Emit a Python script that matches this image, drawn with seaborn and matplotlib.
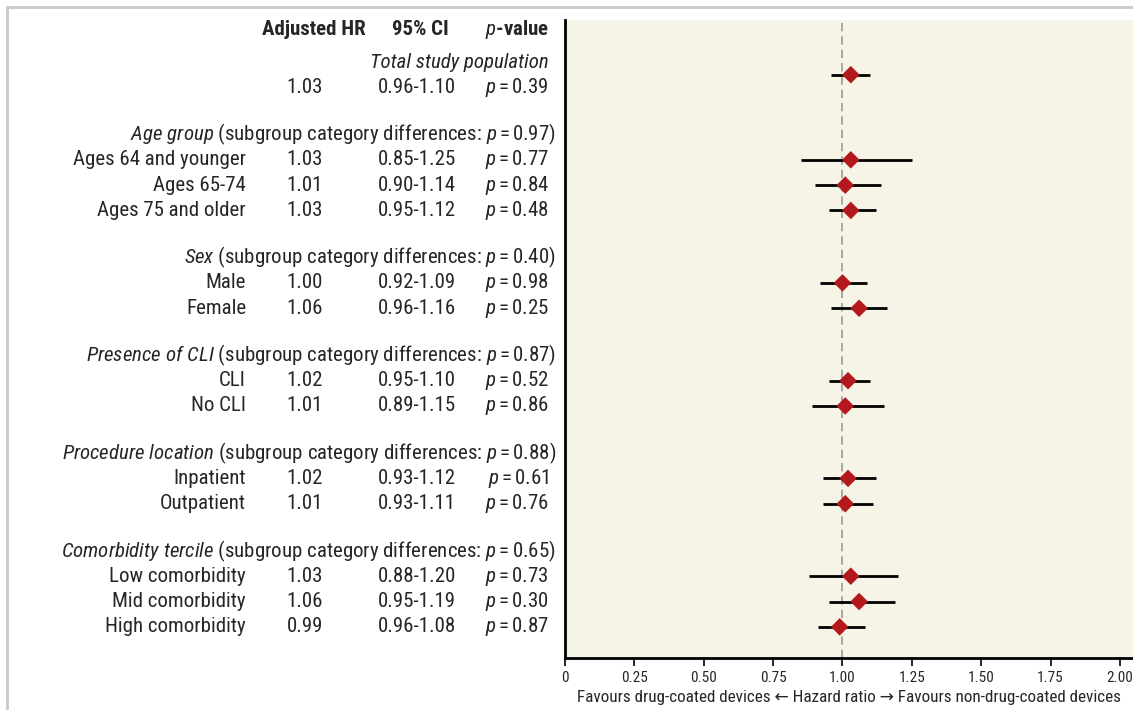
import numpy as np
import pandas as pd
import matplotlib
matplotlib.use("Agg")
import matplotlib.pyplot as plt
import matplotlib.transforms as mtransforms
from matplotlib import font_manager
from matplotlib.lines import Line2D
import seaborn as sns

# subgroup data
groups = ["Age group", "Sex", "Presence of CLI", "Procedure location", "Comorbidity tercile"]
group_p = ["0.97", "0.40", "0.87", "0.88", "0.65"]
group_items = [
    ["Ages 64 and younger", "Ages 65-74", "Ages 75 and older"],
    ["Male", "Female"],
    ["CLI", "No CLI"],
    ["Inpatient", "Outpatient"],
    ["Low comorbidity", "Mid comorbidity", "High comorbidity"],
]
hr = [1.03, 1.01, 1.03, 1.00, 1.06, 1.02, 1.01, 1.02, 1.01, 1.03, 1.06, 0.99]
ci_lo = [0.85, 0.90, 0.95, 0.92, 0.96, 0.95, 0.89, 0.93, 0.93, 0.88, 0.95, 0.91]
ci_hi = [1.25, 1.14, 1.12, 1.09, 1.16, 1.10, 1.15, 1.12, 1.11, 1.20, 1.19, 1.08]
ci_text = ["0.85-1.25", "0.90-1.14", "0.95-1.12", "0.92-1.09", "0.96-1.16", "0.95-1.10",
           "0.89-1.15", "0.93-1.12", "0.93-1.11", "0.88-1.20", "0.95-1.19", "0.96-1.08"]
pvals = ["0.77", "0.84", "0.48", "0.98", "0.25", "0.52", "0.86", "0.61", "0.76", "0.73", "0.30", "0.87"]

total_hr = 1.03
total_lo, total_hi = 0.96, 1.10
total_ci_text = "0.96-1.10"
total_p = "0.39"

sns.set_style("white")

# pick the narrowest installed family
installed = {f.name for f in font_manager.fontManager.ttflist}
fnt = "Liberation Sans"
for cand in ["Liberation Sans Narrow", "Roboto Condensed", "DejaVu Sans Condensed", "Liberation Sans"]:
    if cand in installed:
        fnt = cand
        break
condensed = fnt != "Liberation Sans"
plt.rcParams["font.family"] = [fnt, "DejaVu Sans"]
plt.rcParams["mathtext.fontset"] = "custom"
plt.rcParams["mathtext.rm"] = fnt
plt.rcParams["mathtext.it"] = fnt + ":italic"
plt.rcParams["mathtext.bf"] = fnt + ":bold"

W, H = 1133, 710
fig = plt.figure(figsize=(W / 100, H / 100), dpi=100)
ax = fig.add_axes([565 / W, 1 - 658 / H, 1 - 565 / W, (658 - 20) / H])

# row layout (row units, 0 = "Total study population" line)
step, gap = 1.0, 1.86
y_total_val = step
y = y_total_val
head_y, item_y = [], []
for items in group_items:
    y += gap
    head_y.append(y)
    for _ in items:
        y += step
        item_y.append(y)
y_marker_total = 0.5

ax.set_ylim(y + 1.23, -1.66)
ax.set_xlim(0, 2.047)
ax.set_facecolor("#f6f3e7")

# CI lines and diamonds
ax.hlines(item_y, ci_lo, ci_hi, color="black", lw=2, zorder=2)
ax.hlines([y_marker_total], [total_lo], [total_hi], color="black", lw=2, zorder=2)
df = pd.DataFrame({"hr": [total_hr] + hr, "y": [y_marker_total] + item_y})
sns.scatterplot(data=df, x="hr", y="y", marker="D", s=80, color="#b3191c",
                edgecolor="none", zorder=3, ax=ax, legend=False)
ax.axvline(1.0, color="#999999", lw=1.2, ls=(0, (5, 3)), zorder=1)

fs = 15 if condensed else 12.6
ax.set_xticks([0, 0.25, 0.5, 0.75, 1.0, 1.25, 1.5, 1.75, 2.0])
ax.set_xticklabels(["0", "0.25", "0.50", "0.75", "1.00", "1.25", "1.50", "1.75", "2.00"])
ax.tick_params(axis="x", bottom=True, length=6, width=1.2, color="black",
               labelsize=fs - 4, pad=3)
ax.set_yticks([])
ax.set_xlabel("Favours drug-coated devices \u2190 Hazard ratio \u2192 Favours non-drug-coated devices",
              fontsize=fs - 2.7, labelpad=4)
ax.set_ylabel("")
for side in ["top", "right"]:
    ax.spines[side].set_visible(False)
for side in ["left", "bottom"]:
    ax.spines[side].set_color("black")
    ax.spines[side].set_linewidth(2)

# left-hand table
tr = mtransforms.blended_transform_factory(fig.transFigure, ax.transData)
x_lab, x_hr, x_ci, x_p, x_head = 246 / W, 305 / W, 417 / W, 549 / W, 556 / W
peq = r"$\mathit{p}=$"
ax.text(314 / W, -1.3, "Adjusted HR", transform=tr, ha="center", va="center", fontsize=fs, fontweight="bold")
ax.text(420 / W, -1.3, "95% CI", transform=tr, ha="center", va="center", fontsize=fs, fontweight="bold")
ax.text(x_p, -1.3, r"$\mathbf{\mathit{p}}$-value", transform=tr, ha="right", va="center",
        fontsize=fs, fontweight="bold")

ax.text(x_p, 0, "Total study population", transform=tr, ha="right", va="center", fontsize=fs, style="italic")
ax.text(x_hr, y_total_val, f"{total_hr:.2f}", transform=tr, ha="center", va="center", fontsize=fs)
ax.text(x_ci, y_total_val, total_ci_text, transform=tr, ha="center", va="center", fontsize=fs)
ax.text(x_p, y_total_val, peq + total_p, transform=tr, ha="right", va="center", fontsize=fs)

for g, gp, gy in zip(groups, group_p, head_y):
    gname = g.replace(" ", r"\ ")
    ax.text(x_head, gy, r"$\mathit{" + gname + r"}$ (subgroup category differences:" + r"$\ \mathit{p}=$" + gp + ")",
            transform=tr, ha="right", va="center", fontsize=fs)

labels = [lab for items in group_items for lab in items]
for lab, h, ct, pv, iy in zip(labels, hr, ci_text, pvals, item_y):
    ax.text(x_lab, iy, lab, transform=tr, ha="right", va="center", fontsize=fs)
    ax.text(x_hr, iy, f"{h:.2f}", transform=tr, ha="center", va="center", fontsize=fs)
    ax.text(x_ci, iy, ct, transform=tr, ha="center", va="center", fontsize=fs)
    ax.text(x_p, iy, peq + pv, transform=tr, ha="right", va="center", fontsize=fs)

# faint frame at the top and left edges
fig.add_artist(Line2D([7 / W, 1], [1 - 7 / H, 1 - 7 / H], color="#c8c8c8", lw=2, transform=fig.transFigure))
fig.add_artist(Line2D([7 / W, 7 / W], [0, 1 - 7 / H], color="#c8c8c8", lw=2, transform=fig.transFigure))

fig.savefig("out.png", dpi=100)
